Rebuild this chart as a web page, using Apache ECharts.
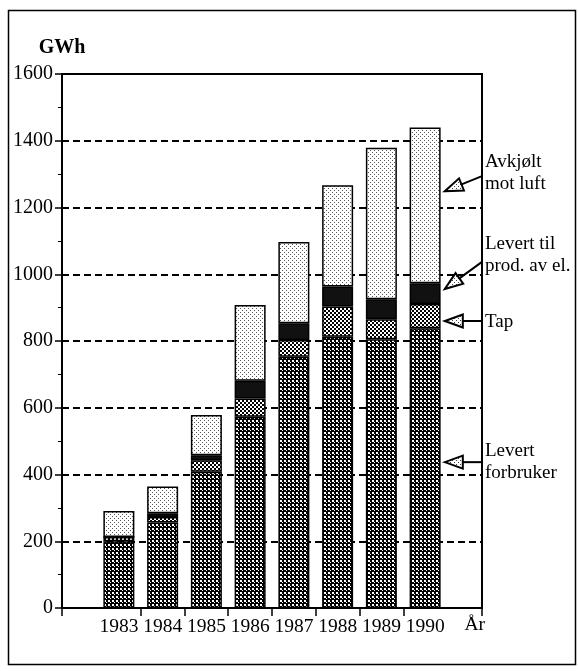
<!DOCTYPE html>
<html><head><meta charset="utf-8">
<script src="https://cdn.jsdelivr.net/npm/echarts@6/dist/echarts.min.js"></script>
<style>html,body{margin:0;padding:0;background:#fff}#c{width:578px;height:671px}</style>
</head><body><div id="c"></div>
<script>
// ---- data ----
const years = ['1983', '1984', '1985', '1986', '1987', '1988', '1989', '1990'];
const levertForbruker = [200, 256, 408, 573, 753, 813, 805, 838];
const tap = [13, 17, 35, 55, 50, 90, 60, 73];
const levertProdEl = [0, 11, 15, 53, 50, 60, 60, 62];
const avkjoltLuft = [78, 80, 120, 227, 244, 304, 454, 467];
const yMin = 0, yMax = 1600, yStep = 200;
const xUnit = 'År', yUnit = 'GWh';
const annotations = [
  { text: 'Avkjølt\nmot luft', tipY: 1249, tailY: 1294, textY: 1302 },
  { text: 'Levert til\nprod. av el.', tipY: 956, tailY: 1037, textY: 1058 },
  { text: 'Tap', tipY: 860, tailY: 860, textY: 856 },
  { text: 'Levert\nforbruker', tipY: 437, tailY: 437, textY: 437 }
];

const FONT = '"Liberation Serif", "Times New Roman", serif';
const xMin = 1981.7, xMax = 1991.3;

function pattern(size, draw) {
  const c = document.createElement('canvas');
  c.width = c.height = size;
  const g = c.getContext('2d');
  draw(g, size);
  return { image: c, repeat: 'repeat' };
}
const patForbruker = pattern(4, (g) => {
  g.fillStyle = '#000'; g.fillRect(0, 0, 4, 4);
  g.fillStyle = '#fff'; g.fillRect(0, 0, 2, 2); g.fillRect(2, 2, 1, 1);
});
const patTap = pattern(4, (g) => {
  g.fillStyle = '#fff'; g.fillRect(0, 0, 4, 4);
  g.fillStyle = '#000'; g.fillRect(2, 0, 2, 2); g.fillRect(0, 2, 2, 2);
});
const patAvk = pattern(4, (g) => {
  g.fillStyle = '#fff'; g.fillRect(0, 0, 4, 4);
  g.fillStyle = '#555'; g.fillRect(0, 0, 1, 1); g.fillRect(2, 2, 1, 1);
});
const patArrow = pattern(4, (g) => {
  g.fillStyle = '#fff'; g.fillRect(0, 0, 4, 4);
  g.fillStyle = '#444'; g.fillRect(0, 0, 1, 1); g.fillRect(2, 2, 1, 1);
});

const yearNums = years.map(Number);
const tickVals = [xMin].concat(yearNums.slice(0, -1).map(v => v + 0.5)).concat([xMax]);

const chart = echarts.init(document.getElementById('c'), null, { renderer: 'canvas' });

function barSeries(name, data, color) {
  return {
    name, type: 'bar', stack: 'total', data,
    xAxisIndex: 1, yAxisIndex: 1,
    barWidth: 31,
    itemStyle: { color, borderColor: '#000', borderWidth: 1.5 },
    silent: true
  };
}

chart.setOption({
  animation: false,
  backgroundColor: '#fff',
  grid: [
    { left: 62, right: 96, top: 74, bottom: 63, show: true, borderColor: '#000', borderWidth: 2 },
    { left: 97, right: 131, top: 74, bottom: 63 }
  ],
  xAxis: [
    {
      gridIndex: 0, type: 'value', min: xMin, max: xMax,
      name: xUnit, nameLocation: 'end', nameGap: 3,
      nameTextStyle: { align: 'right', verticalAlign: 'top', padding: [7, 0, 0, 0], fontFamily: FONT, fontSize: 19.5, color: '#000' },
      axisLine: { show: true, lineStyle: { color: '#000', width: 2 } },
      axisTick: { show: true, customValues: tickVals, length: 8, lineStyle: { color: '#000', width: 1.5 } },
      axisLabel: { customValues: yearNums, formatter: v => String(Math.round(v)), margin: 9, fontFamily: FONT, fontSize: 19.5, color: '#000' },
      splitLine: { show: false }
    },
    { gridIndex: 1, type: 'category', data: years, show: false }
  ],
  yAxis: [
    {
      gridIndex: 0, type: 'value', min: yMin, max: yMax, interval: yStep,
      name: yUnit, nameLocation: 'end', nameGap: 26,
      nameTextStyle: { fontWeight: 'bold', fontSize: 20, fontFamily: FONT, color: '#000', align: 'center', verticalAlign: 'middle' },
      axisLine: { show: true, lineStyle: { color: '#000', width: 2 } },
      axisTick: { show: true, length: 7, lineStyle: { color: '#000', width: 1.5 } },
      minorTick: { show: true, splitNumber: 2, length: 4, lineStyle: { color: '#000', width: 1 } },
      axisLabel: { margin: 9, fontFamily: FONT, fontSize: 20, color: '#000', formatter: v => String(v) },
      splitLine: { show: true, lineStyle: { type: [7, 4], color: '#000', width: 2 } }
    },
    { gridIndex: 1, type: 'value', min: yMin, max: yMax, show: false }
  ],
  series: [
    barSeries('Levert forbruker', levertForbruker, patForbruker),
    barSeries('Tap', tap, patTap),
    barSeries('Levert til prod. av el.', levertProdEl, '#111'),
    barSeries('Avkjølt mot luft', avkjoltLuft, patAvk)
  ]
});

// annotations anchored to data coordinates
const tipX = yearNums[yearNums.length - 1] + 0.45;
const P = v => chart.convertToPixel({ gridIndex: 0 }, v);
const graphics = [{
  type: 'rect', silent: true,
  shape: { x: 8.5, y: 10.5, width: 567, height: 654 },
  style: { fill: 'none', stroke: '#000', lineWidth: 1.5 }
}];
annotations.forEach(a => {
  const tip = P([tipX, a.tipY]);
  const tail = P([xMax, a.tailY]);
  const dx = tail[0] - tip[0], dy = tail[1] - tip[1];
  const len = Math.sqrt(dx * dx + dy * dy);
  const ux = dx / len, uy = dy / len;
  const bx = tip[0] + ux * 18, by = tip[1] + uy * 18;
  const nx = -uy, ny = ux;
  graphics.push({
    type: 'line', silent: true,
    shape: { x1: bx, y1: by, x2: tail[0], y2: tail[1] },
    style: { stroke: '#000', lineWidth: 2 }
  });
  graphics.push({
    type: 'polygon', silent: true,
    shape: { points: [[tip[0], tip[1]], [bx + nx * 6.5, by + ny * 6.5], [bx - nx * 6.5, by - ny * 6.5]] },
    style: { fill: patArrow, stroke: '#000', lineWidth: 2 }
  });
  const ty = P([xMax, a.textY])[1];
  graphics.push({
    type: 'text', silent: true,
    style: { text: a.text, x: tail[0] + 3, y: ty, font: '19px ' + FONT, fill: '#000', verticalAlign: 'middle', align: 'left', lineHeight: 22 }
  });
});
chart.setOption({ graphic: graphics });
</script>
</body></html>
